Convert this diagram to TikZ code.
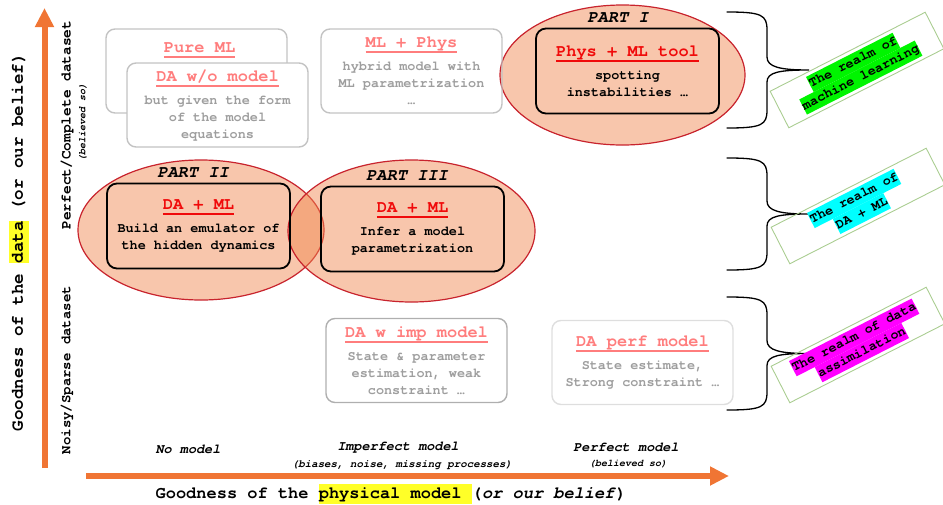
\documentclass[tikz,border=0pt]{standalone}
\usepackage{fontspec}
\setmainfont{TeX Gyre Cursor}
\usetikzlibrary{arrows.meta}
\definecolor{axisorange}{RGB}{240,117,52}
\definecolor{partred}{RGB}{200,35,45}
\definecolor{partfill}{RGB}{240,134,78}
\definecolor{ttlred}{RGB}{240,10,10}
\definecolor{ttlpink}{RGB}{255,125,125}
\definecolor{bdygray}{RGB}{158,158,158}
\definecolor{boxgray}{RGB}{195,195,195}
\definecolor{impgray}{RGB}{175,175,175}
\definecolor{perfgray}{RGB}{222,222,222}
\definecolor{realmgreen}{RGB}{170,205,145}
\definecolor{hlgreen}{RGB}{0,245,0}
\definecolor{hlcyan}{RGB}{0,255,255}
\definecolor{hlmagenta}{RGB}{255,0,255}
\definecolor{hlyellow}{RGB}{255,255,40}
\newcommand{\ttlfont}{\fontsize{17}{20}\selectfont\bfseries}
\newcommand{\bdyfont}{\fontsize{13.5}{17}\selectfont\bfseries}
\newcommand{\undl}[1]{{\setbox0\hbox{#1}\rlap{\raisebox{-5.5pt}{\rule{\wd0}{1.8pt}}}\box0}}
\newcommand{\hlite}[2]{{\setlength{\fboxsep}{0pt}\colorbox{#1}{\strut#2}}}

\begin{document}
\begin{tikzpicture}[x=1pt,y=-1pt,
    axis/.style={line width=6pt,axisorange,-{Triangle[length=19pt,width=18pt]}},
    part/.style={draw=partred,line width=1.2pt,fill=partfill,fill opacity=0.47},
    card/.style={draw=#1,line width=1.4pt,rounded corners=9pt,minimum width=181pt,minimum height=84pt,inner sep=0pt,align=center,font=\bdyfont,text=bdygray},
    partbox/.style={draw=black,line width=1.8pt,rounded corners=10pt,minimum width=183pt,minimum height=85pt,inner sep=0pt,align=center,font=\bdyfont},
    partlabel/.style={font=\ttlfont\itshape},
    realm/.style={draw=realmgreen,line width=0.9pt,rotate=27,minimum width=174pt,minimum height=41pt,inner sep=0pt,align=center,font=\fontsize{13.5}{17}\selectfont\bfseries},
    brace/.style={line width=1.3pt,line cap=round}]
    \useasboundingbox (0,0) rectangle (943,504);

    % the three parts
    \draw[part] (622.5,75) ellipse [x radius=122.5, y radius=70];
    \draw[part] (201,230) ellipse [x radius=123, y radius=70];
    \draw[part] (411.5,231) ellipse [x radius=123.5, y radius=71];

    \node[partlabel] (part1) at (618,18) {PART I};
    \node[partlabel] (part2) at (193,173) {PART II};
    \node[partlabel] (part3) at (407,176) {PART III};

    \node[partbox] (physml) at (627.5,71) {{\ttlfont\color{ttlred}\undl{Phys + ML tool}}\\[6pt]spotting\\instabilities …};
    \node[partbox] (emulator) at (198.5,226) {{\ttlfont\color{ttlred}\undl{DA + ML}}\\[6pt]Build an emulator of\\the hidden dynamics};
    \node[partbox] (infer) at (412.5,229) {{\ttlfont\color{ttlred}\undl{DA + ML}}\\[6pt]Infer a model\\parametrization};

    % the grey boxes
    \node[card=boxgray] (pureml) at (196.5,71) {};
    \node[font=\ttlfont,text=ttlpink] (pureml-t) at (199.5,50) {\undl{Pure ML}};
    \node[card=boxgray,fill=white] (dawo) at (217.5,105) {{\ttlfont\color{ttlpink}\undl{DA w/o model}}\\[6pt]but given the form\\of the model\\equations};
    \node[card=boxgray] (mlphys) at (411.5,71) {{\ttlfont\color{ttlpink}\undl{ML + Phys}}\\[6pt]hybrid model with\\ML parametrization\\…};
    \node[card=impgray] (daimp) at (416.5,360.5) {{\ttlfont\color{ttlpink}\undl{DA w imp model}}\\[6pt]State \& parameter\\estimation, weak\\constraint …};
    \node[card=perfgray] (daperf) at (642.5,362.5) {{\ttlfont\color{ttlpink}\undl{DA perf model}}\\[6pt]State estimate,\\Strong constraint …};

    % braces and realms
    \foreach \t/\b in {12/128,158/270,297/410}{
        \pgfmathsetmacro{\m}{(\t+\b)/2}
        \draw[brace] (727,\t) .. controls (762,\t) and (767,\t+3) .. (767,\t+18) -- (767,\m-13)
            .. controls (767,\m-3) and (780,\m) .. (809,\m)
            .. controls (780,\m) and (767,\m+2) .. (767,\m+12) -- (767,\b-18)
            .. controls (767,\b-3) and (762,\b) .. (727,\b);
    }
    \node[realm] (realm-ml) at (857,70) {\hlite{hlgreen}{The realm of}\\\hlite{hlgreen}{machine learning}};
    \node[realm] (realm-daml) at (858,206) {\hlite{hlcyan}{The realm of}\\\hlite{hlcyan}{DA + ML}};
    \node[realm] (realm-da) at (858,345) {\hlite{hlmagenta}{The realm of data}\\\hlite{hlmagenta}{assimilation}};

    % axes
    \coordinate (y0) at (44.5,468);
    \coordinate (y1) at (44.5,8);
    \coordinate (x0) at (86,476);
    \coordinate (x1) at (729,476);
    \draw[axis] (y0) -- (y1);
    \draw[axis] (x0) -- (x1);

    \node[rotate=90,font=\fontsize{17.5}{20}\selectfont\bfseries] (ylabel) at (19,242) {Goodness of the \hlite{hlyellow}{data} (or our belief)};
    \node[rotate=90,font=\fontsize{14.5}{16}\selectfont\bfseries] (perfdata) at (67,125) {Perfect/Complete dataset};
    \node[rotate=90,font=\fontsize{10}{12}\selectfont\bfseries\itshape] (perfdata-note) at (83,122) {(believed so)};
    \node[rotate=90,font=\fontsize{14}{16}\selectfont\bfseries] (noisydata) at (67,370) {Noisy/Sparse dataset};

    \node[font=\fontsize{13.5}{16}\selectfont\bfseries\itshape] (nomodel) at (188,449) {No model};
    \node[font=\fontsize{13.5}{16}\selectfont\bfseries\itshape] (impmodel) at (398,448) {Imperfect model};
    \node[font=\fontsize{10.8}{12}\selectfont\bfseries\itshape] (impmodel-note) at (402,465) {(biases, noise, missing processes)};
    \node[font=\fontsize{13.5}{16}\selectfont\bfseries\itshape] (perfmodel) at (626,447) {Perfect model};
    \node[font=\fontsize{10}{12}\selectfont\bfseries\itshape] (perfmodel-note) at (628,464) {(believed so)};
    \node[font=\fontsize{17}{20}\selectfont\bfseries] (xlabel) at (391,494) {Goodness of the \hlite{hlyellow}{physical model }(\textit{or our belief})};
\end{tikzpicture}
\end{document}
